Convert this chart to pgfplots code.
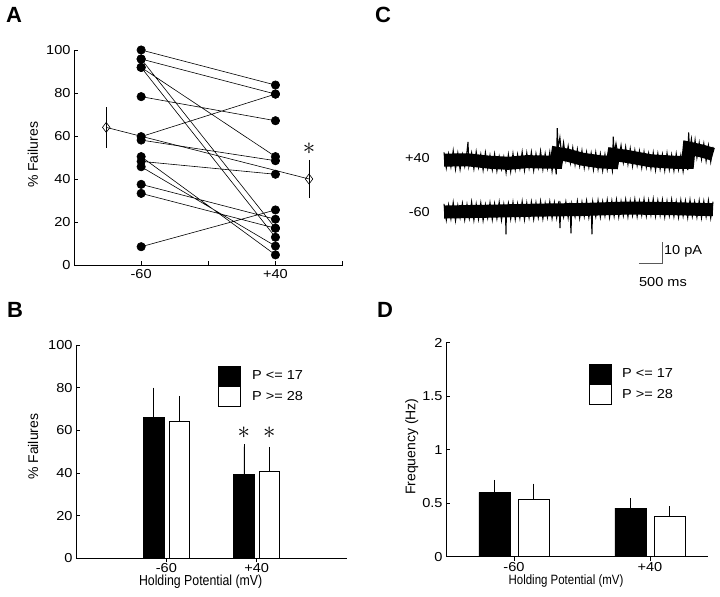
\documentclass[border=0pt]{standalone}
\usepackage{fontspec}
\setmainfont{Liberation Sans}
\newfontfamily\tickfont{Liberation Sans}[FakeStretch=1.12]
\newfontfamily\labfont{Liberation Sans}[FakeStretch=0.85]
\usepackage{pgfplots}
\pgfplotsset{compat=1.18}

\newcommand{\tfont}{\tickfont\fontsize{13bp}{15bp}\selectfont}
\newcommand{\sig}{\fontsize{24bp}{24bp}\selectfont$\ast$}

\pgfplotsset{
  fig/.style={
    scale only axis,
    anchor=south west,
    axis x line=bottom, axis y line=left,
    axis line style={-, line width=0.7bp},
    tick style={line width=0.7bp, black},
    major tick length=4bp,
    tick align=inside,
    /pgf/number format/assume math mode=true,
    tick label style={font=\tfont},
    ylabel style={font=\fontsize{14bp}{16bp}\selectfont},
    xlabel style={font=\labfont\fontsize{14.5bp}{16bp}\selectfont, inner sep=0pt},
    clip=false,
  },
  sqimg/.style={
    legend image code/.code={\draw[##1] (0bp,-9.75bp) rectangle (22bp,9.75bp);}},
  sqlegend/.style={
    legend style={draw=none, fill=none, inner sep=0pt, row sep=0pt,
      column sep=9bp, font=\tfont},
    legend cell align=left,
  },
}

\begin{document}
\begin{tikzpicture}[x=1bp,y=1bp]
\useasboundingbox (0,0) rectangle (720,597);

% panel letters
\node[font=\fontsize{22bp}{22bp}\selectfont\bfseries] at (14,582) {A};
\node[font=\fontsize{22bp}{22bp}\selectfont\bfseries] at (15,287) {B};
\node[font=\fontsize{22bp}{22bp}\selectfont\bfseries] at (383,582) {C};
\node[font=\fontsize{22bp}{22bp}\selectfont\bfseries] at (385,287) {D};

% ---------- A ----------
\begin{axis}[fig, at={(74bp,332bp)}, width=268.6bp, height=215bp,
  xmin=-110, xmax=90, ymin=0, ymax=100,
  xtick={-60,-10,40,90}, xticklabels={-60,,+40,},
  xticklabel style={inner sep=4bp},
  ytick={0,20,...,100},
  ylabel={\% Failures},
  ylabel style={at={(axis description cs:-0.153,0.512)}, anchor=center},
  unbounded coords=jump]
\addplot[black, line width=0.6bp, mark=*, mark size=4.2bp] coordinates {
  (-60,100)(40,83.7) (-10,nan)
  (-60,95.8)(40,79.5) (-10,nan)
  (-60,95.8)(40,17.1) (-10,nan)
  (-60,91.9)(40,12.9) (-10,nan)
  (-60,91.9)(40,50.4) (-10,nan)
  (-60,78.3)(40,67.1) (-10,nan)
  (-60,59.7)(40,79.5) (-10,nan)
  (-60,58.1)(40,48.5) (-10,nan)
  (-60,48.2)(40,42.2) (-10,nan)
  (-60,50.4)(40,4.7) (-10,nan)
  (-60,45.7)(40,8.8) (-10,nan)
  (-60,37.5)(40,21.3) (-10,nan)
  (-60,33.3)(40,17.1) (-10,nan)
  (-60,8.5)(40,25.6)
};
\addplot[black, line width=0.6bp, mark=diamond, mark size=5bp,
  mark options={fill=white},
  error bars/.cd, y dir=both, y explicit,
  error mark options={black, mark size=3bp}] coordinates {
  (-86,64) +- (0,8)
  (65,40) +- (0,7.5)
};
\node at (axis cs:65,54) {\sig};
\end{axis}

% ---------- B ----------
\begin{axis}[fig, sqlegend, at={(76bp,38.7bp)}, width=271bp, height=213.3bp,
  xmin=0, xmax=3, ymin=0, ymax=100,
  xtick={1,2}, xticklabels={-60,+40},
  xticklabel style={inner sep=1bp},
  ytick={0,20,...,100},
  ybar=5bp, bar width=20.5bp,
  every axis plot post/.append style={sqimg},
  ylabel={\% Failures},
  ylabel style={at={(axis description cs:-0.158,0.523)}, anchor=center},
  xlabel={Holding Potential (mV)},
  xlabel style={at={(axis description cs:0.46,-0.11)}, anchor=center},
  legend style={at={(axis description cs:0.525,0.902)}, anchor=north west}]
\addplot[fill=black, draw=black, line width=0.6bp,
  error bars/.cd, y dir=plus, y explicit,
  error bar style={line width=0.6bp}, error mark options={black, mark size=2.5bp}]
  coordinates {(1,65.9) +- (0,13.0) (2,39.5) +- (0,12.8)};
\addplot[fill=white, draw=black, line width=0.6bp,
  error bars/.cd, y dir=plus, y explicit,
  error bar style={line width=0.6bp}, error mark options={black, mark size=2.5bp}]
  coordinates {(1,64.4) +- (0,10.6) (2,40.9) +- (0,10.2)};
\legend{P <= 17, P >= 28}
\node at (axis cs:1.859,59) {\sig};
\node at (axis cs:2.141,59) {\sig};
\end{axis}

% ---------- C ----------
\begin{axis}[at={(444bp,306bp)}, anchor=south west, scale only axis,
  width=269bp, height=189bp, xmin=0, xmax=5850, ymin=-10, ymax=80,
  hide axis, clip=false]
% dense core of each trace
\addplot[black, line width=13bp] coordinates {
(0,52.3)(500,52.5)(1000,51.3)(1400,50.8)(1800,51.6)(2440,51.3)
(2470,55.5)(2700,54.6)(3000,52.8)(3400,51.5)(3660,51.2)
(3690,55.0)(4000,54.0)(4500,52.0)(5000,51.3)(5300,51.3)
(5330,58.0)(5600,56.7)(5850,55.1)
};
\addplot[black, line width=13bp] coordinates {
(0,27.6)(1000,28.0)(2000,28.5)(3000,28.8)(4000,29.5)(5000,29.2)(5850,28.7)
};
% ragged noise
\addplot[black, line width=1.1bp] coordinates {
(0,56.0)(50,48.6)(100,55.3)(150,49.1)(200,56.8)(250,48.0)(300,55.6)(350,47.9)
(400,55.0)(450,49.4)(500,56.4)(522,61.0)(540,49.5)(600,55.8)(650,48.2)(700,56.3)
(750,48.9)(800,55.1)(850,47.6)(900,55.9)(950,48.4)(1000,54.6)(1050,47.7)(1100,55.2)
(1150,47.2)(1200,54.0)(1250,48.1)(1300,53.8)(1350,46.3)(1400,54.9)(1450,46.9)(1500,55.4)
(1550,47.8)(1600,55.0)(1650,48.3)(1700,56.2)(1750,47.5)(1800,55.7)(1850,48.6)(1900,56.1)
(1950,47.4)(2000,55.3)(2050,48.8)(2100,56.6)(2150,47.9)(2200,55.4)(2250,48.5)(2300,56.0)
(2350,47.1)(2400,55.5)(2440,45.5)(2463,67.5)(2480,58.0)(2520,63.0)(2560,54.5)(2600,60.6)
(2650,52.3)(2700,58.9)(2750,51.0)(2800,58.2)(2850,50.1)(2900,57.4)(2950,49.6)(3000,56.8)
(3050,48.7)(3100,56.1)(3150,48.9)(3200,55.6)(3250,47.8)(3300,55.9)(3350,48.0)(3400,55.2)
(3450,47.3)(3500,55.0)(3550,47.9)(3600,54.6)(3660,47.5)(3681,63.5)(3700,55.5)(3740,60.2)
(3800,52.4)(3850,59.3)(3900,51.2)(3950,58.6)(4000,50.4)(4050,57.8)(4100,49.5)(4150,57.0)
(4200,49.8)(4250,56.6)(4300,48.7)(4350,56.2)(4400,48.9)(4450,55.5)(4500,48.3)(4550,55.8)
(4600,47.6)(4650,55.4)(4700,48.1)(4750,55.0)(4800,47.4)(4850,55.6)(4900,47.8)(4950,54.8)
(5000,47.3)(5050,55.3)(5100,47.9)(5150,54.6)(5200,47.0)(5250,55.1)(5300,47.6)(5320,65.5)
(5340,56.5)(5380,62.4)(5420,54.9)(5460,61.8)(5500,53.6)(5550,60.5)(5600,52.8)(5650,60.1)
(5700,51.9)(5750,59.3)(5800,51.5)(5850,58.6)
};
\addplot[black, line width=1.1bp] coordinates {
(0,31.5)(50,23.8)(100,31.0)(150,24.4)(200,32.1)(250,23.5)(300,30.8)(350,24.9)
(400,31.7)(450,23.9)(500,31.2)(550,24.6)(600,32.4)(650,23.7)(700,31.4)(750,24.2)
(800,31.9)(850,23.6)(900,31.1)(950,24.8)(1000,32.0)(1050,24.0)(1100,31.6)(1150,24.5)
(1200,32.3)(1250,23.8)(1300,31.3)(1340,25.0)(1348,17.0)(1356,27.0)(1400,31.8)(1450,24.3)
(1500,32.2)(1550,24.1)(1600,31.5)(1650,24.7)(1700,32.6)(1750,24.0)(1800,31.9)(1850,24.9)
(1900,32.4)(1950,24.2)(2000,32.0)(2050,25.0)(2100,32.7)(2150,24.4)(2200,31.8)(2250,25.1)
(2300,32.5)(2350,24.6)(2400,32.1)(2450,24.8)(2500,32.9)(2522,20.0)(2540,31.0)(2600,25.2)
(2650,32.4)(2700,24.9)(2740,32.0)(2761,17.5)(2780,31.5)(2850,25.3)(2900,32.8)(2950,24.7)
(3000,32.3)(3050,25.5)(3100,33.0)(3150,25.0)(3200,31.8)(3217,17.0)(3235,32.5)(3300,25.4)
(3350,33.1)(3400,25.2)(3450,32.6)(3500,25.8)(3550,33.3)(3600,25.1)(3650,32.9)(3700,25.6)
(3750,33.4)(3800,25.3)(3850,32.7)(3900,25.9)(3950,33.5)(4000,25.4)(4050,33.0)(4100,26.0)
(4150,33.6)(4200,25.5)(4250,32.9)(4300,26.1)(4350,33.7)(4400,25.7)(4450,33.2)(4500,26.2)
(4550,33.8)(4600,25.6)(4650,33.1)(4700,26.0)(4750,33.4)(4800,25.3)(4850,32.8)(4900,25.9)
(4950,33.5)(5000,25.5)(5050,32.6)(5100,25.1)(5150,33.2)(5200,25.7)(5250,32.9)(5300,25.0)
(5350,33.3)(5400,25.6)(5450,32.4)(5500,25.2)(5550,33.0)(5600,24.9)(5650,32.7)(5700,25.4)
(5750,33.1)(5800,24.8)(5850,32.5)
};
% scale bar
\addplot[gray!70!black, line width=0.8bp] coordinates {(4239,3.3)(4739,3.3)(4739,13.3)};
\node[anchor=west, inner sep=0pt, font=\tfont] at (axis cs:4783,8.7) {10 pA};
\node[anchor=west, inner sep=0pt, font=\tfont] at (axis cs:4239,-5.6) {500 ms};
\node[anchor=east, inner sep=0pt, font=\tfont] at (axis cs:-304,53.3) {+40};
\node[anchor=east, inner sep=0pt, font=\tfont] at (axis cs:-304,27.6) {-60};
\end{axis}

% ---------- D ----------
\begin{axis}[fig, sqlegend, at={(446bp,40.3bp)}, width=262.3bp, height=214bp,
  xmin=0.5, xmax=2.43, ymin=0, ymax=2,
  xtick={1,2}, xticklabels={-60,+40},
  xticklabel style={inner sep=2bp},
  ytick={0,0.5,1,1.5,2},
  ybar=8bp, bar width=31bp,
  every axis plot post/.append style={sqimg},
  ylabel={Frequency (Hz)},
  ylabel style={at={(axis description cs:-0.131,0.514)}, anchor=center},
  xlabel={Holding Potential (mV)},
  xlabel style={at={(axis description cs:0.4575,-0.112)}, anchor=center,
    font=\labfont\fontsize{13.5bp}{15bp}\selectfont},
  legend style={at={(axis description cs:0.5425,0.9005)}, anchor=north west}]
\addplot[fill=black, draw=black, line width=0.6bp,
  error bars/.cd, y dir=plus, y explicit,
  error bar style={line width=0.6bp}, error mark options={black, mark size=2.5bp}]
  coordinates {(1,0.60) +- (0,0.095) (2,0.453) +- (0,0.072)};
\addplot[fill=white, draw=black, line width=0.6bp,
  error bars/.cd, y dir=plus, y explicit,
  error bar style={line width=0.6bp}, error mark options={black, mark size=2.5bp}]
  coordinates {(1,0.54) +- (0,0.12) (2,0.381) +- (0,0.066)};
\legend{P <= 17, P >= 28}
\end{axis}
\end{tikzpicture}
\end{document}
